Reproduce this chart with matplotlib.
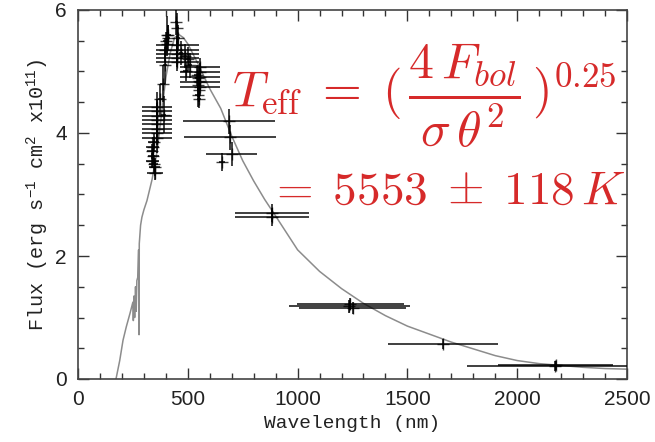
import matplotlib
matplotlib.use("Agg")
import matplotlib.pyplot as plt
from matplotlib.ticker import MultipleLocator

# ---------------- data ----------------
# model spectrum (grey curve): wavelength (nm), flux (1e-11 erg/s/cm2)
model_wl = [173, 190, 205, 220, 237, 250, 252, 255, 258, 262, 265, 268, 272, 276, 278, 279,
            285, 291, 300, 314, 337, 360, 380, 400, 420, 440, 460, 480, 500, 550, 600, 650,
            700, 750, 800, 850, 900, 1000, 1100, 1200, 1300, 1400, 1500, 1600, 1700, 1800,
            1900, 2000, 2100, 2200, 2300, 2400, 2500]
model_flux = [0.0, 0.3, 0.63, 0.85, 1.07, 1.25, 0.95, 1.35, 1.0, 1.5, 1.1, 1.6, 1.65, 2.1, 0.72, 2.2,
              2.5, 2.63, 2.75, 2.9, 3.24, 3.7, 4.3, 4.9, 5.3, 5.55, 5.6, 5.55, 5.45, 5.1, 4.72, 4.4,
              3.95, 3.55, 3.22, 2.92, 2.65, 2.1, 1.75, 1.47, 1.23, 1.03, 0.86, 0.73, 0.6, 0.49,
              0.38, 0.3, 0.25, 0.22, 0.19, 0.17, 0.16]

# spectrophotometric points
spec_wl = [360, 360, 360, 360, 360, 360, 360, 360,
           345, 340, 335, 342, 338, 345, 350, 351,
           375, 385, 395, 390,
           453, 453, 453, 453, 453,
           400, 405, 410, 398, 412, 405,
           448, 452, 455,
           470, 485, 500, 510, 490,
           555, 555, 555, 555, 555,
           540, 545, 550, 548, 552, 545, 550]
spec_flux = [4.42, 4.35, 4.28, 4.21, 4.14, 4.07, 4.00, 3.92,
             3.85, 3.78, 3.70, 3.62, 3.55, 3.50, 3.45, 3.35,
             4.55, 4.80, 5.10, 4.30,
             5.43, 5.35, 5.28, 5.22, 5.15,
             5.50, 5.45, 5.55, 5.35, 5.60, 5.60,
             5.80, 5.70, 5.55,
             5.30, 5.25, 5.20, 5.10, 5.00,
             5.07, 4.99, 4.91, 4.83, 4.75,
             4.95, 4.90, 4.85, 4.78, 4.70, 4.62, 4.55]
spec_wlerr = [68, 68, 68, 68, 68, 68, 68, 68,
              25, 30, 20, 25, 30, 20, 25, 35,
              10, 12, 10, 10,
              100, 100, 100, 100, 100,
              12, 10, 10, 8, 10, 6,
              8, 8, 8,
              10, 10, 10, 10, 10,
              90, 90, 90, 90, 90,
              10, 12, 10, 12, 10, 10, 8]
spec_fluxerr = [0.25, 0.2, 0.2, 0.2, 0.2, 0.2, 0.2, 0.25,
                0.15, 0.15, 0.12, 0.12, 0.12, 0.15, 0.15, 0.12,
                0.25, 0.3, 0.3, 0.3,
                0.15, 0.15, 0.15, 0.15, 0.15,
                0.15, 0.2, 0.2, 0.2, 0.15, 0.3,
                0.2, 0.25, 0.2,
                0.2, 0.2, 0.2, 0.2, 0.15,
                0.15, 0.15, 0.15, 0.15, 0.15,
                0.15, 0.2, 0.2, 0.2, 0.2, 0.2, 0.15]

# broadband photometry
phot_wl = [688, 692, 700, 656, 883, 883, 1240, 1250, 1235, 1662, 2170, 2175]
phot_flux = [4.19, 3.93, 3.66, 3.53, 2.70, 2.63, 1.22, 1.15, 1.18, 0.57, 0.21, 0.22]
phot_wlerr = [210, 210, 117, 15, 170, 170, 245, 245, 275, 250, 400, 262]
phot_fluxerr = [0.2, 0.2, 0.2, 0.15, 0.15, 0.15, 0.1, 0.1, 0.1, 0.08, 0.08, 0.08]

x_ticks = [0, 500, 1000, 1500, 2000, 2500]
y_ticks = [0, 2, 4, 6]

# ---------------- figure ----------------
plt.rcParams['mathtext.rm'] = 'Liberation Mono'
plt.rcParams['mathtext.it'] = 'Liberation Mono:italic'
plt.rcParams['mathtext.bf'] = 'Liberation Mono:bold'

fig = plt.figure(figsize=(6.55, 4.42), dpi=100)
ax = fig.add_axes([78/655, 1-379/442, (627-78)/655, (379-10)/442])

ax.plot(model_wl, model_flux, color='#8c8c8c', lw=1.1, zorder=2, clip_on=True)

ekw = dict(fmt='+', color='black', ecolor='black', elinewidth=1.4, capsize=0,
           markersize=9, markeredgewidth=1.0, alpha=0.75, zorder=3)
ax.errorbar(spec_wl, spec_flux, xerr=spec_wlerr, yerr=spec_fluxerr, **ekw)
ax.errorbar(phot_wl, phot_flux, xerr=phot_wlerr, yerr=phot_fluxerr, **ekw)

ax.set_xlim(0, 2500)
ax.set_ylim(0, 6)
ax.set_xticks(x_ticks)
ax.set_yticks(y_ticks)
ax.xaxis.set_minor_locator(MultipleLocator(100))
ax.yaxis.set_minor_locator(MultipleLocator(0.5))
ax.tick_params(which='both', direction='in', top=True, right=True, color='#333333', width=1.0)
ax.tick_params(which='major', length=8, pad=8)
ax.tick_params(which='minor', length=4)
for lbl in ax.get_xticklabels() + ax.get_yticklabels():
    lbl.set_fontfamily('Liberation Sans')
    lbl.set_fontsize(15)
    lbl.set_color('#222222')
for s in ax.spines.values():
    s.set_color('#444444')
    s.set_linewidth(1.2)

ax.set_xlabel('Wavelength (nm)', fontfamily='Liberation Mono', fontsize=14, color='#222222', labelpad=4)
ax.set_ylabel(r'Flux (erg s$^{-1}$ cm$^{2}$ x10$^{11}$)', fontfamily='Liberation Mono',
              fontsize=14.5, color='#222222', labelpad=3, math_fontfamily='custom')

red = '#d62a2a'
fig.text(232/655, 1-107/442,
         r'$T_{\rm eff} \;=\; (\,\dfrac{4\,F_{bol}}{\sigma\,\theta^2}\,)^{0.25}$',
         color=red, fontsize=36, ha='left', va='baseline', math_fontfamily='cm')
fig.text(625/655, 1-204/442, r'$=\;5553\;\pm\;118\,K$',
         color=red, fontsize=34, ha='right', va='baseline', math_fontfamily='cm')

fig.savefig('out.png', dpi=100)
